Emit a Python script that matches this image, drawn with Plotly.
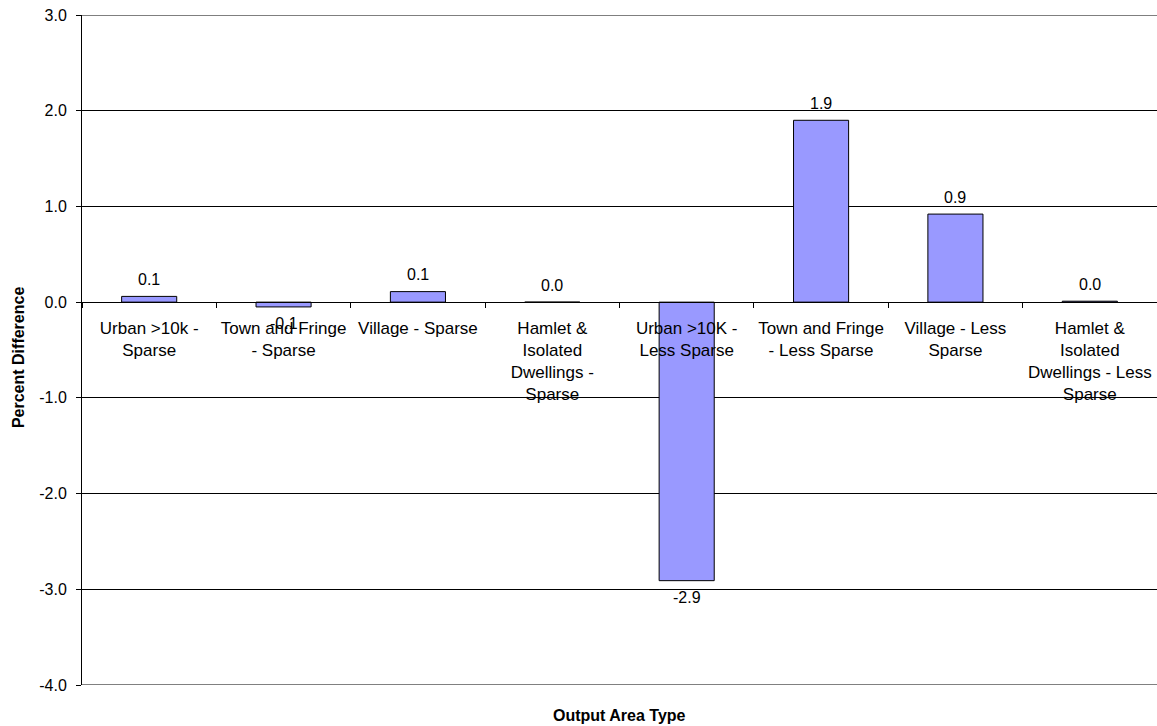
import plotly.graph_objects as go

categories = [
    "Urban >10k -<br>Sparse",
    "Town and Fringe<br>- Sparse",
    "Village - Sparse",
    "Hamlet &<br>Isolated<br>Dwellings -<br>Sparse",
    "Urban >10K -<br>Less Sparse",
    "Town and Fringe<br>- Less Sparse",
    "Village - Less<br>Sparse",
    "Hamlet &<br>Isolated<br>Dwellings - Less<br>Sparse",
]
values = [0.06, -0.05, 0.11, 0.0, -2.91, 1.90, 0.92, 0.01]
y_range = [-4, 3]
y_tickvals = [3, 2, 1, 0, -1, -2, -3, -4]
y_ticktext = ["3.0", "2.0", "1.0", "0.0", "-1.0", "-2.0", "-3.0", "-4.0"]

FONT = "Liberation Sans, Arial, sans-serif"

fig = go.Figure()
fig.add_trace(go.Bar(
    x=categories,
    y=values,
    marker=dict(color="#9999FF", line=dict(color="#000000", width=1)),
    hoverinfo="x+y",
))

annotations = []
for c, v in zip(categories, values):
    annotations.append(dict(
        x=c, y=v, xref="x", yref="y",
        text=f"{v:.1f}",
        showarrow=False,
        yanchor="middle",
        yshift=17 if v >= 0 else -17,
        font=dict(family=FONT, size=16, color="#000000"),
    ))

annotations.append(dict(
    x=0.5, y=-0.045, xref="paper", yref="paper",
    text="<b>Output Area Type</b>", showarrow=False,
    yanchor="middle", xanchor="center",
    font=dict(family=FONT, size=16, color="#000000"),
))
annotations.append(dict(
    x=-0.0595, y=0.488, xref="paper", yref="paper",
    text="<b>Percent Difference</b>", showarrow=False, textangle=-90,
    yanchor="middle", xanchor="center",
    font=dict(family=FONT, size=16, color="#000000"),
))

# gridlines at the range ends (plotly omits them at the edges)
shapes = [
    dict(type="line", xref="paper", yref="y", x0=0, x1=1, y0=yv, y1=yv,
         line=dict(color="#000000", width=1))
    for yv in y_range
]

fig.update_layout(
    width=1157, height=726,
    margin=dict(l=82, r=0, t=15, b=41, autoexpand=False),
    paper_bgcolor="white", plot_bgcolor="white",
    showlegend=False,
    bargap=0.59,
    font=dict(family=FONT, color="#000000"),
    annotations=annotations,
    shapes=shapes,
    xaxis=dict(
        type="category",
        anchor="free",
        position=4 / 7,
        automargin=False,
        tickangle=0,
        showline=True, linecolor="#000000", linewidth=1,
        ticks="outside", ticklen=5, tickcolor="#000000",
        tickson="boundaries",
        showgrid=False, zeroline=False,
        tickfont=dict(family=FONT, size=17, color="#000000"),
        ticklabelstandoff=10,
    ),
    yaxis=dict(
        range=y_range,
        automargin=False,
        tickvals=y_tickvals,
        ticktext=y_ticktext,
        showline=True, linecolor="#000000", linewidth=1,
        ticks="outside", ticklen=5, tickcolor="#000000",
        showgrid=True, gridcolor="#000000", gridwidth=1,
        zeroline=False,
        tickfont=dict(family=FONT, size=16, color="#000000"),
        ticklabelstandoff=6,
    ),
)

fig.write_html(
    "out.html",
    config={"displayModeBar": False},
    post_script="document.body.style.margin='0px';document.body.style.overflow='hidden';",
)
